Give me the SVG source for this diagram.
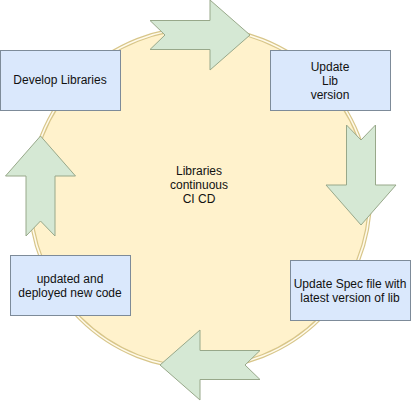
<svg xmlns="http://www.w3.org/2000/svg" width="411" height="402" viewBox="0 0 411 402">
<style>
.box{fill:#dae8fc;stroke:#7d8b99;stroke-width:1}
.arr{fill:#d5e8d4;stroke:#98a88a;stroke-width:1}
.t{font-family:"Liberation Sans",Arial,sans-serif;font-size:12px;fill:#111;text-anchor:middle}
</style>
<defs>
<path id="arrow" d="M0,-14.5 L60,-14.5 L60,-35 L100,0 L60,35 L60,14.5 L0,14.5 L15,0 Z"/>
</defs>
<rect width="411" height="402" fill="#fff"/>
<g id="cycle">
<circle cx="200" cy="198" r="170" fill="#fff2cc" stroke="#d8c68a" stroke-width="4"/>
<circle cx="200" cy="198" r="170" fill="none" stroke="#fffaea" stroke-width="1.6"/>
<text class="t" x="199" y="175">Libraries</text>
<text class="t" x="199" y="189">continuous</text>
<text class="t" x="199" y="203">CI CD</text>
</g>
<g id="connectors">
<use href="#arrow" class="arr" transform="translate(150,35)"/>
<use href="#arrow" class="arr" transform="translate(361,125) rotate(90)"/>
<use href="#arrow" class="arr" transform="translate(260,365) rotate(180)"/>
<use href="#arrow" class="arr" transform="translate(40.5,236) rotate(-90)"/>
</g>
<g id="develop">
<rect class="box" x="0.5" y="50.5" width="120" height="60"/>
<text class="t" x="60" y="84">Develop Libraries</text>
</g>
<g id="updatelib">
<rect class="box" x="270.5" y="50.5" width="120" height="60"/>
<text class="t" x="330" y="71">Update</text>
<text class="t" x="330" y="85">Lib</text>
<text class="t" x="330" y="99">version</text>
</g>
<g id="updatespec">
<rect class="box" x="290.5" y="260.5" width="120" height="60"/>
<text class="t" x="350" y="288">Update Spec file with</text>
<text class="t" x="350" y="302">latest version of lib</text>
</g>
<g id="deployed">
<rect class="box" x="10.5" y="255.5" width="120" height="60"/>
<text class="t" x="70" y="283">updated and</text>
<text class="t" x="70" y="297">deployed new code</text>
</g>
</svg>
